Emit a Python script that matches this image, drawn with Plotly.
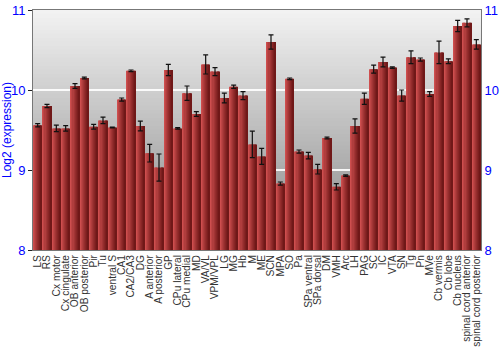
import plotly.graph_objects as go

regions = ["LS", "RS", "Cx motor", "Cx cingulate", "OB anterior", "OB posterior", "Pir", "Tu",
           "ventral S", "CA1", "CA2/CA3", "DG", "A anterior", "A posterior", "GP", "CPu lateral",
           "CPu medial", "MD", "VA/VL", "VPM/VPL", "LG", "MG", "Hb", "M", "ME", "SCN", "MPA", "SO",
           "Pa", "SPa ventral", "SPa dorsal", "DM", "VMH", "Arc", "LH", "PAG", "SC", "IC", "VTA",
           "SN", "Tg", "Pn", "MVe", "Cb vermis", "Cb lobe", "Cb nucleus", "spinal cord anterior",
           "spinal cord posterior"]
expression = [9.56, 9.80, 9.52, 9.52, 10.05, 10.15, 9.54, 9.62,
              9.53, 9.88, 10.24, 9.55, 9.21, 9.03, 10.25, 9.52,
              9.96, 9.70, 10.32, 10.23, 9.90, 10.04, 9.93, 9.32, 9.17, 10.60, 8.83, 10.14,
              9.23, 9.18, 9.01, 9.40, 8.79, 8.93, 9.55, 9.89, 10.26, 10.35, 10.28,
              9.93, 10.41, 10.38, 9.95, 10.47, 10.36, 10.80, 10.84,
              10.57]
errors = [0.02, 0.02, 0.04, 0.035, 0.03, 0.01, 0.03, 0.04,
          0.005, 0.02, 0.01, 0.06, 0.11, 0.17, 0.07, 0.01,
          0.09, 0.03, 0.12, 0.05, 0.06, 0.02, 0.05, 0.165, 0.10, 0.09, 0.02, 0.01,
          0.02, 0.04, 0.06, 0.01, 0.04, 0.01, 0.09, 0.07, 0.05, 0.06, 0.01,
          0.07, 0.08, 0.02, 0.03, 0.14, 0.03, 0.07, 0.05,
          0.06]

y_ticks = [8, 9, 10, 11]
base = 8

def lerp(c1, c2, t):
    return "rgb(%d,%d,%d)" % tuple(round(a + (b - a) * t) for a, b in zip(c1, c2))

fig = go.Figure()

# bars with a horizontal gradient built from narrow overlaid slices
n_slices = 8
bar_w = 0.86
light = (206, 78, 78)
dark = (112, 24, 24)
for k in range(n_slices):
    t = k / (n_slices - 1)
    col = lerp(light, dark, t ** 0.9)
    fig.add_trace(go.Bar(
        x=regions, y=[v - base for v in expression], base=base,
        width=bar_w / n_slices, offset=-bar_w / 2 + k * bar_w / n_slices,
        marker=dict(color=col, line=dict(width=0)),
        showlegend=False, hoverinfo="skip",
    ))

# error bars
fig.add_trace(go.Scatter(
    x=regions, y=expression, mode="markers",
    marker=dict(size=1, opacity=0),
    error_y=dict(type="data", array=errors, color="#111111", thickness=1.2, width=2.5),
    showlegend=False, yaxis="y2",
))

# vertical gray gradient background
n_bands = 60
top_c = (242, 242, 242)
bot_c = (136, 136, 136)
shapes = []
for i in range(n_bands):
    t = i / (n_bands - 1)
    shapes.append(dict(type="rect", xref="paper", yref="paper",
                       x0=0, x1=1, y0=1 - (i + 1) / n_bands, y1=1 - i / n_bands + 0.001,
                       fillcolor=lerp(top_c, bot_c, t), line=dict(width=0), layer="below"))

axis_font = dict(family="Liberation Sans, Arial, sans-serif", size=13, color="#0000ff")

fig.update_layout(
    width=500, height=350,
    margin=dict(l=33, r=19, t=10, b=100),
    paper_bgcolor="white", plot_bgcolor="rgba(0,0,0,0)",
    barmode="overlay", bargap=0.14,
    shapes=shapes,
    font=dict(family="Liberation Sans, Arial, sans-serif"),
    xaxis=dict(tickangle=-90, tickfont=dict(size=10.2, color="#333333"),
               tickmode="array", tickvals=regions, ticktext=regions,
               automargin=False,
               showgrid=False, ticks="", showline=True, linecolor="#777777",
               mirror=True, range=[-0.5, len(regions) - 0.5]),
    yaxis=dict(range=[8, 11], tickvals=y_ticks, ticks="outside", ticklen=4,
               tickcolor="#222222", tickfont=axis_font, automargin=False,
               showgrid=True, gridcolor="rgba(255,255,255,0.9)", gridwidth=1.5,
               showline=True, linecolor="#777777", zeroline=False,
               title=dict(text="Log2 (expression)", font=dict(size=12, color="#0000ff"),
                          standoff=9)),
    yaxis2=dict(range=[8, 11], tickvals=y_ticks, overlaying="y", side="right",
                ticks="", tickfont=axis_font, showgrid=False, showline=True,
                automargin=False, linecolor="#777777", zeroline=False),
)

fig.write_html("out.html")
